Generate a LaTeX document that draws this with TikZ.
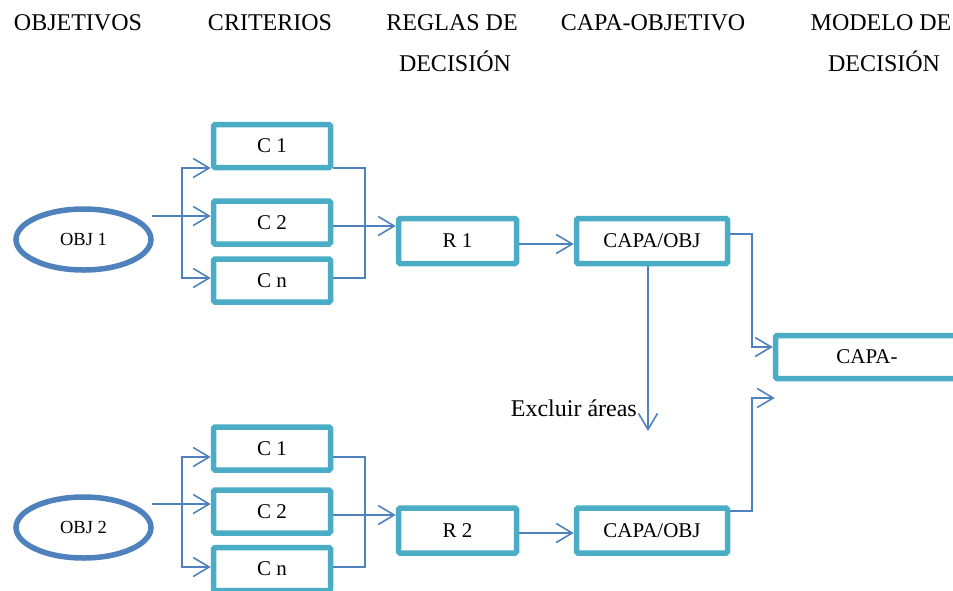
\documentclass[tikz,border=0pt]{standalone}
\usepackage{fontspec}
\setmainfont{Liberation Serif}
\usetikzlibrary{arrows.meta,shapes.geometric}
\definecolor{boxcyan}{HTML}{4BACC6}
\definecolor{linkblue}{HTML}{4F81BD}
\tikzset{
  stagebox/.style={draw=boxcyan,line width=5.5pt,rounded corners=1.5pt,fill=white,
    minimum width=117pt,minimum height=43pt,inner sep=0pt,
    font=\fontsize{21}{25}\selectfont},
  rulebox/.style={stagebox,minimum width=118pt,minimum height=45pt},
  layerbox/.style={stagebox,minimum width=151pt,minimum height=45pt},
  goal/.style={ellipse,draw=linkblue,line width=5.5pt,minimum width=135pt,
    minimum height=61pt,inner sep=0pt,font=\fontsize{18.5}{22}\selectfont},
  heading/.style={anchor=base,font=\fontsize{24}{28}\selectfont,inner sep=0pt},
  link/.style={draw=linkblue,line width=1.6pt},
  conn/.style={link,-{Straight Barb[length=16pt,width=19pt]}},
}
\begin{document}
\begin{tikzpicture}[x=1pt,y=-1pt]
\useasboundingbox (0,0) rectangle (953,590);
\clip (0,0) rectangle (953,590);

% column headings
\node[heading] (hobj) at (78,30) {OBJETIVOS};
\node[heading] (hcri) at (270,30) {CRITERIOS};
\node[heading] (hreg) at (452,30) {REGLAS DE};
\node[heading] (hreg2) at (455,71) {DECISIÓN};
\node[heading] (hcap) at (653,30) {CAPA-OBJETIVO};
\node[heading] (hmod) at (881,30) {MODELO DE};
\node[heading] (hmod2) at (884,71) {DECISIÓN};

% first objective
\node[goal] (o1) at (83.5,239.5) {OBJ 1};
\node[stagebox] (c11) at (272,146) {C 1};
\node[stagebox] (c12) at (272,222.5) {C 2};
\node[stagebox] (c1n) at (272,280.5) {C n};
\node[rulebox] (r1) at (457.5,241) {R 1};
\node[layerbox] (p1) at (652,241) {CAPA/OBJ};

% second objective
\node[goal] (o2) at (83.5,527.5) {OBJ 2};
\node[stagebox] (c21) at (272,448.5) {C 1};
\node[stagebox] (c22) at (272,511.5) {C 2};
\node[stagebox] (c2n) at (272,569) {C n};
\node[rulebox] (r2) at (457.5,530.5) {R 2};
\node[layerbox] (p2) at (652,530.5) {CAPA/OBJ};

% combined decision layer
\node[stagebox,minimum width=183pt,minimum height=43pt] (m) at (867,357) {CAPA-};

% junctions
\coordinate (j1) at (182,216);
\coordinate (k1) at (365,226);
\coordinate (j2) at (182,504);
\coordinate (k2) at (365,515);
\coordinate (ex) at (648,431);

% objective 1 -> criteria
\draw[conn] ([shift={(-2,-23.5)}]o1.east) -- ([shift={(0,-6.5)}]c12.west);
\draw[conn] (j1) |- ([shift={(0,22)}]c11.west);
\draw[conn] (j1) |- ([shift={(0,-2.5)}]c1n.west);
% criteria -> rule 1
\draw[link] ([shift={(0,22)}]c11.east) -| (k1) |- ([shift={(0,-2.5)}]c1n.east);
\draw[conn] ([shift={(0,3.5)}]c12.east) -- ([shift={(0,-15)}]r1.west);
\draw[conn] ([shift={(0,3)}]r1.east) -- ([shift={(0,3)}]p1.west);
% layer 1 -> decision layer and exclusion
\draw[conn] ([shift={(0,-7)}]p1.east) -| ([shift={(-21,-10)}]m.west) -- ([shift={(0,-10)}]m.west);
\draw[conn] ([shift={(-4,0)}]p1.south) -- (ex);
\node[anchor=east,inner sep=0pt,font=\fontsize{24}{28}\selectfont] (excl) at (637,408) {Excluir áreas};

% objective 2 -> criteria
\draw[conn] ([shift={(-2,-23.5)}]o2.east) -- ([shift={(0,-7.5)}]c22.west);
\draw[conn] (j2) |- ([shift={(0,8.5)}]c21.west);
\draw[conn] (j2) |- ([shift={(0,-2)}]c2n.west);
% criteria -> rule 2
\draw[link] ([shift={(0,8.5)}]c21.east) -| (k2) |- ([shift={(0,-2)}]c2n.east);
\draw[conn] ([shift={(0,3.5)}]c22.east) -- ([shift={(0,-15.5)}]r2.west);
\draw[conn] ([shift={(0,2.5)}]r2.east) -- ([shift={(0,2.5)}]p2.west);
% layer 2 -> decision layer
\draw[conn] ([shift={(0,-19.5)}]p2.east) -| ([shift={(-21,41)}]m.west) -- ([shift={(2,41)}]m.west);
\end{tikzpicture}
\end{document}
